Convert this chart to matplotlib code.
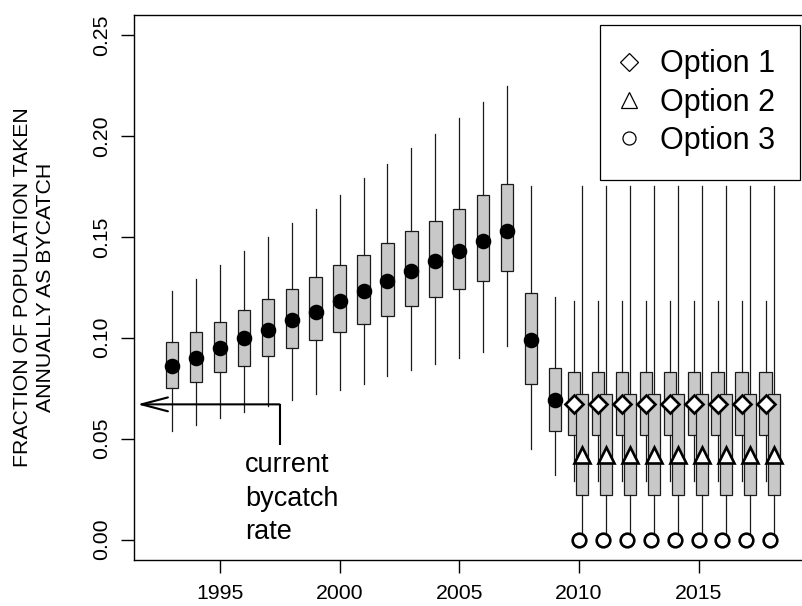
import matplotlib
matplotlib.use('Agg')
import matplotlib.pyplot as plt
from matplotlib.lines import Line2D

plt.rcParams['font.family'] = ['Liberation Sans', 'DejaVu Sans']

# ---------------- data ----------------
years = [1993, 1994, 1995, 1996, 1997, 1998, 1999, 2000, 2001,
         2002, 2003, 2004, 2005, 2006, 2007, 2008, 2009]
whishi = [0.123, 0.129, 0.136, 0.143, 0.150, 0.157, 0.164, 0.171, 0.179,
          0.186, 0.194, 0.201, 0.209, 0.217, 0.225, 0.175, 0.120]
q3 = [0.098, 0.103, 0.108, 0.114, 0.119, 0.124, 0.130, 0.136, 0.141,
      0.147, 0.153, 0.158, 0.164, 0.171, 0.176, 0.122, 0.085]
med = [0.086, 0.090, 0.095, 0.100, 0.104, 0.109, 0.113, 0.118, 0.123,
       0.128, 0.133, 0.138, 0.143, 0.148, 0.153, 0.099, 0.069]
q1 = [0.075, 0.078, 0.083, 0.086, 0.091, 0.095, 0.099, 0.103, 0.107,
      0.111, 0.116, 0.120, 0.124, 0.128, 0.133, 0.077, 0.054]
whislo = [0.054, 0.057, 0.060, 0.063, 0.066, 0.069, 0.072, 0.074, 0.077,
          0.081, 0.084, 0.087, 0.090, 0.093, 0.096, 0.045, 0.032]

opt_years = [2010, 2011, 2012, 2013, 2014, 2015, 2016, 2017, 2018]
opt1_whislo = [0.029, 0.029, 0.029, 0.029, 0.029, 0.029, 0.029, 0.029, 0.029]
opt1_q1 = [0.052, 0.052, 0.052, 0.052, 0.052, 0.052, 0.052, 0.052, 0.052]
opt1_q3 = [0.083, 0.083, 0.083, 0.083, 0.083, 0.083, 0.083, 0.083, 0.083]
opt1_whishi = [0.118, 0.118, 0.118, 0.118, 0.118, 0.118, 0.118, 0.118, 0.118]
opt1_value = [0.067, 0.067, 0.067, 0.067, 0.067, 0.067, 0.067, 0.067, 0.067]

opt2_whislo = [0.0, 0.0, 0.0, 0.0, 0.0, 0.0, 0.0, 0.0, 0.0]
opt2_q1 = [0.022, 0.022, 0.022, 0.022, 0.022, 0.022, 0.022, 0.022, 0.022]
opt2_q3 = [0.072, 0.072, 0.072, 0.072, 0.072, 0.072, 0.072, 0.072, 0.072]
opt2_whishi = [0.175, 0.175, 0.175, 0.175, 0.175, 0.175, 0.175, 0.175, 0.175]
opt2_value = [0.042, 0.042, 0.042, 0.042, 0.042, 0.042, 0.042, 0.042, 0.042]

opt3_value = [0.0, 0.0, 0.0, 0.0, 0.0, 0.0, 0.0, 0.0, 0.0]

legend_labels = ['Option 1', 'Option 2', 'Option 3']
xticks = [1995, 2000, 2005, 2010, 2015]
yticks = [0.00, 0.05, 0.10, 0.15, 0.20, 0.25]
ylabel = 'FRACTION OF POPULATION TAKEN\nANNUALLY AS BYCATCH'
current_rate = 0.067
note = 'current\nbycatch\nrate'

# ---------------- figure ----------------
W, H = 802, 606
fig = plt.figure(figsize=(W / 100, H / 100), dpi=100)
ax = fig.add_axes([134.3 / W, 1 - 559.7 / H, (806 - 134.3) / W, (559.7 - 15) / H])
ax.set_xlim(1991.42, 2019.49)
ax.set_ylim(-0.01, 0.26)

box_fc = '#C8C8C8'
edge = '#1a1a1a'
common = dict(patch_artist=True, showcaps=False, showfliers=False,
              manage_ticks=False,
              whiskerprops=dict(color=edge, linewidth=0.9),
              medianprops=dict(linewidth=0))

def stats_list(lo, a, m, b, hi):
    return [dict(whislo=lo[i], q1=a[i], med=m[i], q3=b[i], whishi=hi[i])
            for i in range(len(lo))]

bp = ax.bxp(stats_list(whislo, q1, med, q3, whishi), positions=years,
            widths=0.52, boxprops=dict(facecolor=box_fc, edgecolor=edge, linewidth=0.9),
            **common)
ax.plot(years, med, linestyle='none', marker='o', markersize=10.2,
        color='black', zorder=5)

off1, off2 = -0.2, 0.14
pos1 = [y + off1 for y in opt_years]
pos2 = [y + off2 for y in opt_years]
b1 = ax.bxp(stats_list(opt1_whislo, opt1_q1, opt1_value, opt1_q3, opt1_whishi),
            positions=pos1, widths=0.52,
            boxprops=dict(facecolor=box_fc, edgecolor=edge, linewidth=0.9, zorder=2),
            **common)
b2 = ax.bxp(stats_list(opt2_whislo, opt2_q1, opt2_value, opt2_q3, opt2_whishi),
            positions=pos2, widths=0.5,
            boxprops=dict(facecolor=box_fc, edgecolor=edge, linewidth=0.9, zorder=3),
            **common)
for w in b2['whiskers']:
    w.set_zorder(3)

mk = dict(linestyle='none', markerfacecolor='white', markeredgecolor='black',
          markeredgewidth=1.9, zorder=6, clip_on=False)
ax.plot(pos1, opt1_value, marker='D', markersize=9.4, **mk)
ax.plot(pos2, opt2_value, marker='^', markersize=11.8, **mk)
ax.plot(opt_years, opt3_value, marker='o', markersize=9.8, **mk)

# arrow + note
xv = 1997.52
ax.plot([xv, xv], [0.047, current_rate], color='black', linewidth=1.5,
        solid_capstyle='butt', zorder=4)
ax.annotate('', xy=(1991.55, current_rate), xytext=(xv - 0.03, current_rate),
            arrowprops=dict(arrowstyle='->,head_length=1.9,head_width=0.5',
                            mutation_scale=10, lw=1.5, color='black',
                            shrinkA=0, shrinkB=0), zorder=4)
ax.text(1996.06, 0.0002, note, fontsize=19.5, ha='left', va='baseline',
        linespacing=1.38)

# axes styling
for s in ax.spines.values():
    s.set_linewidth(1.0)
    s.set_color('black')
ax.set_xticks(xticks)
ax.set_xticklabels([str(t) for t in xticks])
ax.set_yticks(yticks)
ax.set_yticklabels(['%.2f' % t for t in yticks])
ax.tick_params(axis='both', length=9.4, width=1.0, labelsize=15.3, color='black')
ax.tick_params(axis='x', pad=8.0)
ax.tick_params(axis='y', pad=7.0)
for lab in ax.get_yticklabels():
    lab.set_rotation(90)
    lab.set_va('center')

ax.set_ylabel(ylabel, fontsize=15.3, linespacing=1.25)
ax.yaxis.label.set_va('center')
ax.yaxis.label.set_ha('center')
ax.yaxis.set_label_coords((33.75 - 134.3) / (806 - 134.3), 0.5)

# legend
lk = dict(linestyle='none', markerfacecolor='white', markeredgecolor='black',
          markeredgewidth=0.9)
handles = [Line2D([], [], marker='D', markersize=8.7, **lk),
           Line2D([], [], marker='^', markersize=12.0, **lk),
           Line2D([], [], marker='o', markersize=9.4, **lk)]
leg = ax.legend(handles, legend_labels, loc='upper right',
                bbox_to_anchor=(800 / W, 1 - 25 / H), bbox_transform=fig.transFigure,
                borderaxespad=0, fontsize=22, frameon=True, fancybox=False,
                edgecolor='black', framealpha=1, borderpad=0.8,
                labelspacing=0.27, handlelength=0.3, handletextpad=0.88,
                numpoints=1)
leg.get_frame().set_linewidth(0.9)
leg.set_zorder(10)

fig.savefig('out.png', dpi=100)
